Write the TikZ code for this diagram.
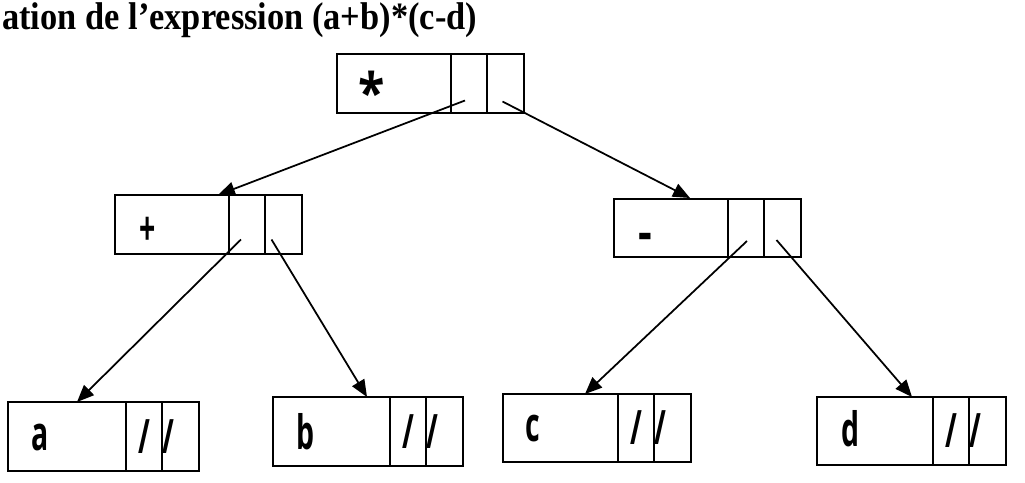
\documentclass[tikz,border=0pt]{standalone}
\usepackage{fontspec}
\usepackage{tikz}
\usetikzlibrary{arrows.meta,positioning,calc}
\newfontfamily\titlefont{Liberation Serif}
\newfontfamily\cellfont{Open Sans}
\begin{document}
\begin{tikzpicture}[x=0.02cm, y=-0.02cm,
    cell/.style={draw, line width=1.1pt, inner sep=0pt, outer sep=0pt, anchor=north west},
    lbl/.style={inner sep=0pt, font=\cellfont\bfseries\fontsize{27}{30}\selectfont, xscale=0.6},
    ptr/.style={line width=1pt, -{Triangle[length=0.34cm, width=0.28cm]}},
    title/.style={inner sep=0pt, font=\titlefont\bfseries\fontsize{22}{26}\selectfont, xscale=0.89}]
    \def\u{0.02cm}
    \useasboundingbox (0,0) rectangle (1025,483);

    % Title
    \node[title, anchor=base west] (title) at (2,30) {ation de l’expression (a+b)*(c-d)};

    % Records: value cell + two pointer cells
    \foreach \nm/\x/\y/\w/\h in {times/337/54/114/59, plus/115/195/114/59, minus/614/199/114/58,
                                 a/8/402/118/69, b/273/397/117/69, c/503/394/115/68, d/817/397/116/68} {
        \node[cell, minimum width=\w*\u, minimum height=\h*\u] (\nm) at (\x,\y) {};
        \node[cell, minimum width=36*\u, minimum height=\h*\u] (\nm1) at (\nm.north east) {};
        \node[cell, minimum width=37*\u, minimum height=\h*\u] (\nm2) at (\nm1.north east) {};
    }

    % Labels
    \foreach \nm/\txt/\dx/\dy in {plus/+/33/36, a/a/32/36, b/b/33/35, c/c/30/35, d/d/33/32} {
        \node[lbl] (\nm lbl) at ([shift={(\dx,\dy)}]\nm.north west) {\txt};
    }
    \node[lbl, xscale=1.5, yscale=1.1] (minuslbl) at ([shift={(31,43)}]minus.north west) {-};
    \node[lbl, xscale=1.7, yscale=1.15] (timeslbl) at ([shift={(35,38)}]times.north west) {*};

    % Null pointers
    \foreach \nm in {a, b, c, d} {
        \node[lbl] (\nm s1) at (\nm1.center) {/};
        \node[lbl] (\nm s2) at ([xshift=6*\u]\nm2.west) {/};
    }

    % Links
    \draw[ptr] ([shift={(-4,17)}]times1.center) -- ([shift={(103,0)}]plus.north west);
    \draw[ptr] ([shift={(-3,18)}]times2.center) -- ([shift={(76,-1)}]minus.north west);
    \draw[ptr] ([shift={(-6,15)}]plus1.center) -- ([shift={(69,0)}]a.north west);
    \draw[ptr] ([shift={(-12,15)}]plus2.center) -- ([shift={(94,0)}]b.north west);
    \draw[ptr] ([shift={(1,13)}]minus1.center) -- ([shift={(82,0)}]c.north west);
    \draw[ptr] ([shift={(-6,12)}]minus2.center) -- ([shift={(95,0)}]d.north west);
\end{tikzpicture}
\end{document}
